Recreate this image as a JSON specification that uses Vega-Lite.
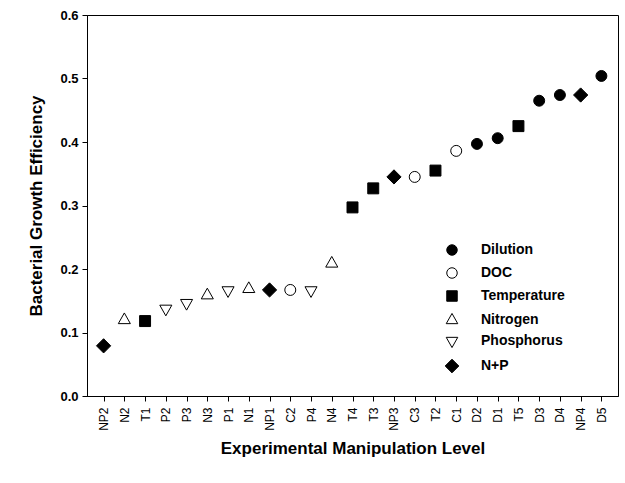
{
  "$schema": "https://vega.github.io/schema/vega-lite/v6.json",
  "autosize": "none",
  "width": 531,
  "height": 381,
  "padding": {"left": 87, "top": 15, "right": 7, "bottom": 87},
  "background": "white",
  "config": {
    "view": {"stroke": "black", "strokeWidth": 1},
    "font": "Liberation Sans",
    "legend": {
      "title": null,
      "orient": "none",
      "legendX": 358,
      "legendY": 228,
      "labelFont": "Liberation Sans",
      "labelFontSize": 14,
      "labelFontWeight": "bold",
      "labelColor": "black",
      "labelOffset": 22,
      "rowPadding": 7,
      "symbolSize": 110,
      "symbolStrokeWidth": 1
    }
  },
  "data": {
    "values": [
      {"level": "NP2", "bge": 0.079, "group": "N+P"},
      {"level": "N2", "bge": 0.12, "group": "Nitrogen"},
      {"level": "T1", "bge": 0.118, "group": "Temperature"},
      {"level": "P2", "bge": 0.137, "group": "Phosphorus"},
      {"level": "P3", "bge": 0.146, "group": "Phosphorus"},
      {"level": "N3", "bge": 0.159, "group": "Nitrogen"},
      {"level": "P1", "bge": 0.166, "group": "Phosphorus"},
      {"level": "N1", "bge": 0.169, "group": "Nitrogen"},
      {"level": "NP1", "bge": 0.167, "group": "N+P"},
      {"level": "C2", "bge": 0.167, "group": "DOC"},
      {"level": "P4", "bge": 0.166, "group": "Phosphorus"},
      {"level": "N4", "bge": 0.209, "group": "Nitrogen"},
      {"level": "T4", "bge": 0.297, "group": "Temperature"},
      {"level": "T3", "bge": 0.327, "group": "Temperature"},
      {"level": "NP3", "bge": 0.345, "group": "N+P"},
      {"level": "C3", "bge": 0.345, "group": "DOC"},
      {"level": "T2", "bge": 0.355, "group": "Temperature"},
      {"level": "C1", "bge": 0.386, "group": "DOC"},
      {"level": "D2", "bge": 0.397, "group": "Dilution"},
      {"level": "D1", "bge": 0.406, "group": "Dilution"},
      {"level": "T5", "bge": 0.425, "group": "Temperature"},
      {"level": "D3", "bge": 0.465, "group": "Dilution"},
      {"level": "D4", "bge": 0.474, "group": "Dilution"},
      {"level": "NP4", "bge": 0.474, "group": "N+P"},
      {"level": "D5", "bge": 0.504, "group": "Dilution"}
    ]
  },
  "mark": {"type": "point", "size": 120, "strokeWidth": 1, "opacity": 1},
  "encoding": {
    "x": {
      "field": "level",
      "type": "nominal",
      "sort": null,
      "scale": {"type": "point", "padding": 0.8},
      "axis": {
        "title": "Experimental Manipulation Level",
        "titleFont": "Liberation Sans",
        "titleFontSize": 17,
        "titleFontWeight": "bold",
        "titleColor": "black",
        "titlePadding": 10,
        "labelAngle": -90,
        "labelFont": "Liberation Sans",
        "labelFontSize": 12,
        "labelColor": "black",
        "labelPadding": 6,
        "domainColor": "black",
        "tickColor": "black",
        "tickSize": 5,
        "grid": false
      }
    },
    "y": {
      "field": "bge",
      "type": "quantitative",
      "scale": {"domain": [0, 0.6]},
      "axis": {
        "title": "Bacterial Growth Efficiency",
        "titleFont": "Liberation Sans",
        "titleFontSize": 17,
        "titleFontWeight": "bold",
        "titleColor": "black",
        "titlePadding": 14,
        "values": [0, 0.1, 0.2, 0.3, 0.4, 0.5, 0.6],
        "format": ".1f",
        "labelFont": "Liberation Sans",
        "labelFontSize": 13,
        "labelFontWeight": "bold",
        "labelColor": "black",
        "labelPadding": 4,
        "domainColor": "black",
        "tickColor": "black",
        "tickSize": 5,
        "grid": false
      }
    },
    "shape": {
      "field": "group",
      "type": "nominal",
      "scale": {
        "domain": ["Dilution", "DOC", "Temperature", "Nitrogen", "Phosphorus", "N+P"],
        "range": ["circle", "circle", "square", "M0,-1.25L1.1,0.7L-1.1,0.7Z", "M0,1.25L1.1,-0.7L-1.1,-0.7Z", "M0,-1.3L1.3,0L0,1.3L-1.3,0Z"]
      }
    },
    "fill": {
      "field": "group",
      "type": "nominal",
      "scale": {
        "domain": ["Dilution", "DOC", "Temperature", "Nitrogen", "Phosphorus", "N+P"],
        "range": ["black", "white", "black", "white", "white", "black"]
      }
    },
    "stroke": {
      "field": "group",
      "type": "nominal",
      "scale": {
        "domain": ["Dilution", "DOC", "Temperature", "Nitrogen", "Phosphorus", "N+P"],
        "range": ["black", "black", "black", "black", "black", "black"]
      }
    }
  }
}
